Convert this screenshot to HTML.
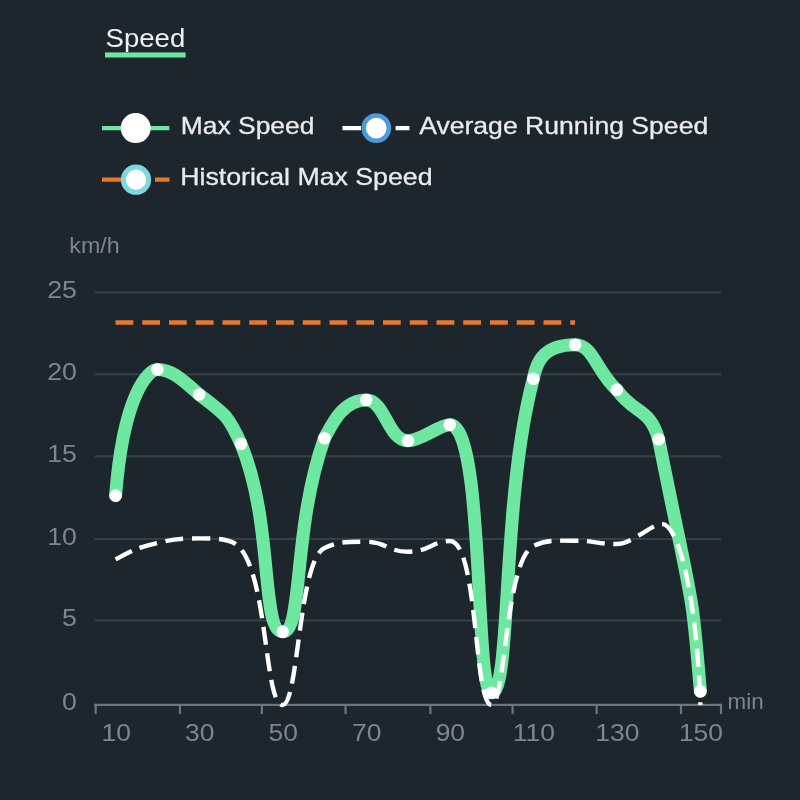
<!DOCTYPE html>
<html lang="en">
<head>
<meta charset="utf-8">
<title>Speed</title>
<style>
html,body{margin:0;padding:0;background:#1e262d;}
body{width:800px;height:800px;overflow:hidden;font-family:"Liberation Sans",sans-serif;}
svg{display:block;will-change:transform;filter:blur(0.6px);}
text{font-family:"Liberation Sans",sans-serif;}
.lg{font-size:24px;fill:#e9ebed;stroke:#e9ebed;stroke-width:0.3px;}
.ax{font-size:24.5px;fill:#7f858d;}
.un{font-size:21.5px;fill:#7f858d;}
</style>
</head>
<body>
<svg width="800" height="800" viewBox="0 0 800 800">
<rect width="800" height="800" fill="#1e262d"/>
<text x="105.6" y="47.1" font-size="25.3" fill="#f1f2f3" textLength="79.6" lengthAdjust="spacingAndGlyphs">Speed</text>
<rect x="105" y="52.4" width="80.6" height="5.1" fill="#6ee8a1"/>
<g>
<line x1="102" y1="128.1" x2="169.3" y2="128.1" stroke="#6ee8a1" stroke-width="4.2"/>
<circle cx="135.7" cy="128.1" r="15" fill="#ffffff"/>
<text class="lg" x="180.8" y="134" textLength="133.6" lengthAdjust="spacingAndGlyphs">Max Speed</text>
<path d="M342.5,128.1H361M395.6,128.1H409.4" stroke="#ffffff" stroke-width="4.2"/>
<circle cx="376.3" cy="128.1" r="12.6" fill="#ffffff" stroke="#4c9bd8" stroke-width="4.6"/>
<text class="lg" x="419.2" y="134" textLength="289" lengthAdjust="spacingAndGlyphs">Average Running Speed</text>
<path d="M102,179.7H121M155,179.7H169.5" stroke="#e8782c" stroke-width="4.2"/>
<circle cx="136" cy="179.7" r="12.6" fill="#ffffff" stroke="#7ed8df" stroke-width="5"/>
<text class="lg" x="180.2" y="185.3" textLength="252.3" lengthAdjust="spacingAndGlyphs">Historical Max Speed</text>
</g>
<text class="un" transform="translate(69.3,253) scale(1.06,1)" style="font-size:22px">km/h</text>
<text class="un" transform="translate(727.6,709) scale(1.05,1)" style="font-size:21.3px">min</text>
<rect x="94.5" y="291.5" width="626.5" height="2" fill="#35414a"/>
<rect x="94.5" y="373.3" width="626.5" height="2" fill="#35414a"/>
<rect x="94.5" y="455.4" width="626.5" height="2" fill="#35414a"/>
<rect x="94.5" y="538" width="626.5" height="2" fill="#35414a"/>
<rect x="94.5" y="619.5" width="626.5" height="2" fill="#35414a"/>
<text class="ax" transform="translate(76.9,298.3) scale(1.09,1)" text-anchor="end">25</text>
<text class="ax" transform="translate(76.9,380.1) scale(1.09,1)" text-anchor="end">20</text>
<text class="ax" transform="translate(76.9,462.2) scale(1.09,1)" text-anchor="end">15</text>
<text class="ax" transform="translate(76.9,544.8) scale(1.09,1)" text-anchor="end">10</text>
<text class="ax" transform="translate(76.9,626.3) scale(1.09,1)" text-anchor="end">5</text>
<text class="ax" transform="translate(76.9,710.3) scale(1.09,1)" text-anchor="end">0</text>
<rect x="94" y="703.8" width="628" height="2.2" fill="#6d757d"/>
<rect x="94.6" y="703.8" width="2.2" height="10.2" fill="#6d757d"/>
<rect x="178.8" y="703.8" width="2.2" height="10.2" fill="#6d757d"/>
<rect x="260.8" y="703.8" width="2.2" height="10.2" fill="#6d757d"/>
<rect x="344.4" y="703.8" width="2.2" height="10.2" fill="#6d757d"/>
<rect x="429.3" y="703.8" width="2.2" height="10.2" fill="#6d757d"/>
<rect x="511.5" y="703.8" width="2.2" height="10.2" fill="#6d757d"/>
<rect x="595.6" y="703.8" width="2.2" height="10.2" fill="#6d757d"/>
<rect x="679.9" y="703.8" width="2.2" height="10.2" fill="#6d757d"/>
<rect x="719.9" y="703.8" width="2.2" height="10.2" fill="#6d757d"/>
<text class="ax" transform="translate(116.2,741.3) scale(1.08,1)" text-anchor="middle">10</text>
<text class="ax" transform="translate(199.74,741.3) scale(1.08,1)" text-anchor="middle">30</text>
<text class="ax" transform="translate(283.28,741.3) scale(1.08,1)" text-anchor="middle">50</text>
<text class="ax" transform="translate(366.82,741.3) scale(1.08,1)" text-anchor="middle">70</text>
<text class="ax" transform="translate(450.36,741.3) scale(1.08,1)" text-anchor="middle">90</text>
<text class="ax" transform="translate(533.9,741.3) scale(1.08,1)" text-anchor="middle">110</text>
<text class="ax" transform="translate(617.44,741.3) scale(1.08,1)" text-anchor="middle">130</text>
<text class="ax" transform="translate(700.98,741.3) scale(1.08,1)" text-anchor="middle">150</text>
<path d="M115.5,322.5H575" stroke="#e8782c" stroke-width="4.6" stroke-dasharray="17.8 8.95" fill="none"/>
<path d="M115.6,495.6C123.54,392.43 149.02,369.5 157.37,369.5C170.32,369.5 179.09,376.46 199.14,394.5C227.13,415.49 228.8,417.05 240.91,443.7C273.91,522.9 260.54,631.8 282.68,631.8C303.57,631.8 292.29,528.26 324.45,438.2C331.55,425.42 342.41,400 366.22,400C385.02,400 387.94,440.8 407.99,440.8C420.94,440.8 439.74,424.8 449.76,424.8C484.85,424.8 474.4,692.8 491.53,692.8C511.58,692.8 501.14,499.41 533.3,378.8C535.39,369.61 537.89,344.8 575.07,344.8C593.03,344.8 596.79,371.76 616.84,389.8C634.8,414.95 649.42,407.04 658.61,439.2C693.7,614.63 691.19,580.93 700.38,691.2" fill="none" stroke="#6ee8a1" stroke-width="13" stroke-linecap="round" stroke-linejoin="round"/>
<path d="M115.6,559.4C136.09,548.46 136.49,548.25 157.37,543C169.58,539.93 178.25,538.4 199.14,538.4C220.02,538.4 232.56,538.56 240.91,549C268.06,582.94 264.72,705 282.68,705C298.55,705 298.55,559.65 324.45,548C339.07,541.42 345.34,541.8 366.22,541.8C387.11,541.8 387.11,551.7 407.99,551.7C428.88,551.7 433.05,541 449.76,541C478.58,541 473.57,705 491.53,705C505.31,705 505.31,559.99 533.3,546C545.83,539.73 554.19,540.7 575.07,540.7C595.96,540.7 595.96,544 616.84,544C631.58,544 652.57,523.8 661.5,523.8C680.94,523.8 697.43,610.44 700.38,705" fill="none" stroke="#ffffff" stroke-width="4.4" stroke-dasharray="18 8.7"/>
<circle cx="115.6" cy="495.6" r="6.3" fill="#ffffff"/>
<circle cx="157.37" cy="369.5" r="6.3" fill="#ffffff"/>
<circle cx="199.14" cy="394.5" r="6.3" fill="#ffffff"/>
<circle cx="240.91" cy="443.7" r="6.3" fill="#ffffff"/>
<circle cx="282.68" cy="631.8" r="6.3" fill="#ffffff"/>
<circle cx="324.45" cy="438.2" r="6.3" fill="#ffffff"/>
<circle cx="366.22" cy="400" r="6.3" fill="#ffffff"/>
<circle cx="407.99" cy="440.8" r="6.3" fill="#ffffff"/>
<circle cx="449.76" cy="424.8" r="6.3" fill="#ffffff"/>
<circle cx="491.53" cy="692.8" r="6.3" fill="#ffffff"/>
<circle cx="533.3" cy="378.8" r="6.3" fill="#ffffff"/>
<circle cx="575.07" cy="344.8" r="6.3" fill="#ffffff"/>
<circle cx="616.84" cy="389.8" r="6.3" fill="#ffffff"/>
<circle cx="658.61" cy="439.2" r="6.3" fill="#ffffff"/>
<circle cx="700.38" cy="691.2" r="6.3" fill="#ffffff"/>
</svg>
</body>
</html>
